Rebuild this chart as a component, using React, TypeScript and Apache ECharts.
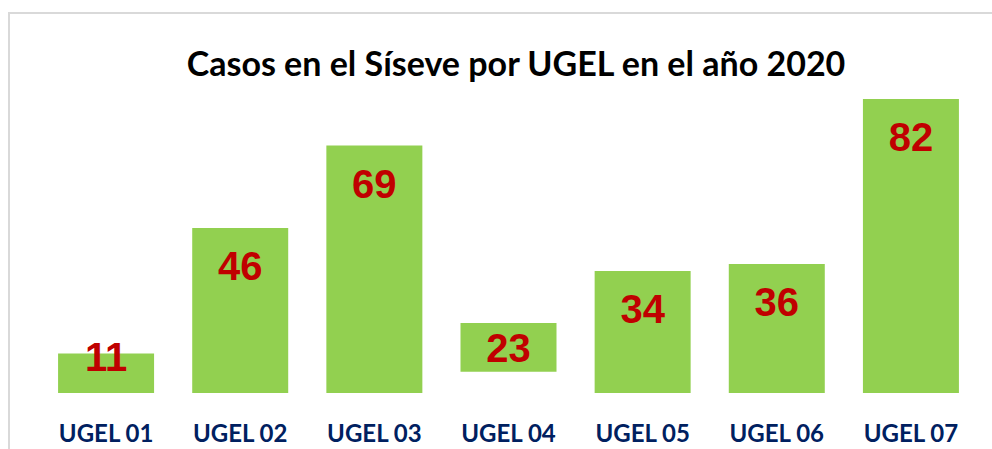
import React, { useEffect, useRef } from "react";
import * as echarts from "echarts";

const categories = ["UGEL 01", "UGEL 02", "UGEL 03", "UGEL 04", "UGEL 05", "UGEL 06", "UGEL 07"];
const casos = [11, 46, 69, 23, 34, 36, 82];
// Drawn extent of each bar (UGEL 04 floats above the baseline)
const barBottom = [0, 0, 0, 5.9, 0, 0, 0];
const barTop = [11, 46, 69, 19.5, 34, 36, 82];
const labelOffsets = [-22, 13, 13, 0, 13, 13, 13];

export default function App() {
  const ref = useRef<HTMLDivElement>(null);
  useEffect(() => {
    if (!ref.current) return;
    const chart = echarts.init(ref.current, null, { renderer: "svg" });
    chart.setOption({
      animation: false,
      backgroundColor: "#ffffff",
      title: {
        text: "Casos en el Síseve por UGEL en el año 2020",
        left: 511,
        top: 40,
        textAlign: "center",
        textStyle: {
          fontFamily: "Lato, 'Open Sans', sans-serif",
          fontWeight: "bold",
          fontSize: 34,
          color: "#000000",
        },
      },
      graphic: [
        {
          type: "rect",
          shape: { x: 9, y: 13, width: 1100, height: 600 },
          style: { fill: "none", stroke: "#d9d9d9", lineWidth: 2 },
          silent: true,
        },
      ],
      grid: { left: 39, right: 14, top: 99, bottom: 56 },
      xAxis: {
        type: "category",
        data: categories,
        axisLine: { show: false },
        axisTick: { show: false },
        axisLabel: {
          margin: 27,
          fontFamily: "Lato, 'Open Sans', sans-serif",
          fontWeight: "bold",
          fontSize: 24,
          lineHeight: 24,
          color: "#002060",
        },
      },
      yAxis: {
        type: "value",
        min: 0,
        max: 82,
        show: false,
        splitLine: { show: false },
      },
      series: [
        {
          type: "bar",
          stack: "s",
          data: barBottom,
          barWidth: 96,
          itemStyle: { color: "rgba(0,0,0,0)" },
          silent: true,
        },
        {
          type: "bar",
          stack: "s",
          data: barTop.map((t, i) => ({
            value: t - barBottom[i],
            label: { offset: [0, labelOffsets[i]] },
          })),
          barWidth: 96,
          itemStyle: { color: "#92D050" },
          label: {
            show: true,
            position: "insideTop",
            distance: 5,
            formatter: (p: any) => String(casos[p.dataIndex]),
            fontFamily: "'Liberation Sans Narrow', 'Arial Narrow', 'Liberation Sans', Arial, sans-serif",
            fontWeight: "bold",
            fontSize: 40,
            lineHeight: 40,
            color: "#C00000",
          },
        },
      ],
    });
    return () => chart.dispose();
  }, []);
  return (
    <div
      ref={ref}
      style={{ position: "fixed", left: 0, top: 0, width: 992, height: 449 }}
    />
  );
}
